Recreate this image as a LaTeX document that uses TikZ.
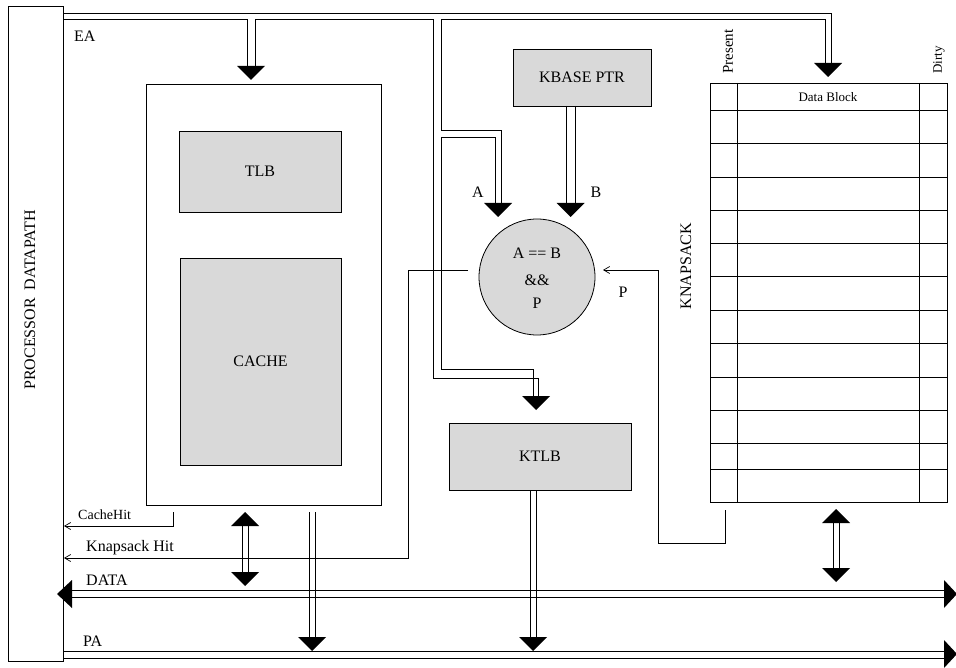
\documentclass[tikz,border=0pt]{standalone}
\usepackage{fontspec}
\setmainfont{Liberation Serif}
\usetikzlibrary{arrows.meta}
\definecolor{stip}{gray}{0.85}
\tikzset{
 box/.style={draw, line width=0.8pt, inner sep=0pt, outer sep=0pt},
 shaded/.style={box, fill=stip},
 wire/.style={line width=0.8pt},
 sig/.style={line width=0.7pt, -{Straight Barb[length=6pt,width=7pt]}},
 lbl/.style={font=\fontsize{16}{18}\selectfont, inner sep=0pt},
 smalllbl/.style={font=\fontsize{13}{15}\selectfont, inner sep=0pt},
}
\newcommand\arrHeadDown[2]{\fill (#1,#2) -- ++(-14,-14) -- ++(28,0) -- cycle;}
\newcommand\arrHeadUp[2]{\fill (#1,#2) -- ++(-14,14) -- ++(28,0) -- cycle;}
\newcommand\arrHeadLeft[2]{\fill (#1,#2) -- ++(15,-14) -- ++(0,28) -- cycle;}
\newcommand\arrHeadRight[2]{\fill (#1,#2) -- ++(-13,-14) -- ++(0,28) -- cycle;}
\begin{document}
\begin{tikzpicture}[x=1pt,y=-1pt]
\useasboundingbox (0,0) rectangle (956,668);
\fill[white] (0,0) rectangle (956,668);

% processor
\node[box, minimum width=55, minimum height=655] (proc) at (35.5,333.5) {};
\node[lbl, rotate=90] (proctxt) at (30,300) {PROCESSOR\ \ DATAPATH};

% cache block
\node[box, minimum width=235, minimum height=421] (cacheouter) at (263.5,294.5) {};
\node[shaded, lbl, minimum width=162, minimum height=81] (tlb) at (260,171.5) {TLB};
\node[shaded, lbl, minimum width=161, minimum height=207] (cache) at (260.5,361.5) {CACHE};

% kbase, comparator, ktlb
\node[shaded, lbl, minimum width=138, minimum height=57] (kbase) at (582,77.5) {KBASE PTR};
\node[shaded, circle, draw, line width=0.8pt, minimum size=116, inner sep=0pt] (cmp) at (537,277) {};
\node[lbl] (cmpa) at (537,253) {A == B};
\node[lbl] (cmpb) at (537,280) {\&\&};
\node[lbl] (cmpc) at (537,303) {P};
\node[shaded, lbl, minimum width=182, minimum height=67] (ktlb) at (540,456.5) {KTLB};

% knapsack table
\node[box, minimum width=237, minimum height=419] (knap) at (828.5,292.5) {};
\draw[wire] (737,83) -- (737,502);
\draw[wire] (919,83) -- (919,502);
\foreach \r in {110,143,177,210,243,276,310,343,377,410,443,469}
  \draw[wire] (710,\r) -- (947,\r);
\node[smalllbl] (dblock) at (828,97) {Data Block};
\node[font=\fontsize{15}{17}\selectfont, inner sep=0pt, rotate=90, anchor=west] (present) at (728,74) {Present};
\node[smalllbl, rotate=90, anchor=west] (dirty) at (939,74) {Dirty};
\node[lbl, rotate=90] (knaptxt) at (686,266) {KNAPSACK};

% EA bus
\draw[wire] (proc.north east |- 0,13) -- (831,13) -- (831,63);
\draw[wire] (proc.north east |- 0,19) -- (247,19) -- (247,66);
\draw[wire] (255,66) -- (255,19) -- (433,19) -- (433,378) -- (538,378) -- (538,397);
\draw[wire] (501,203) -- (501,130) -- (441,130) -- (441,19) -- (825,19) -- (825,63);
\draw[wire] (495,203) -- (495,137) -- (441,137) -- (441,369) -- (533,369) -- (533,397);
\arrHeadDown{251}{80}
\arrHeadDown{828}{77}
\arrHeadDown{498}{217}
\arrHeadDown{536}{410}
\node[lbl, anchor=west] (ea) at (74,36) {EA};
\node[lbl] (la) at (478,192) {A};

% B from kbase
\draw[wire] (566,106) -- (566,203);
\draw[wire] (575,106) -- (575,203);
\arrHeadDown{570.5}{217}
\node[lbl] (lb) at (596,192) {B};

% P feedback
\draw[sig] (725,510) -- (725,543) -- (658,543) -- (658,270) -- (603,270);
\node[lbl] (lp) at (623,292) {P};

% Knapsack hit
\draw[sig] (468,270) -- (408,270) -- (408,558) -- (64,558);
\node[lbl, anchor=west] (khit) at (86,548) {Knapsack Hit};

% Cache hit
\draw[sig] (173,512) -- (173,526) -- (64,526);
\node[font=\fontsize{14}{16}\selectfont, inner sep=0pt, anchor=west] (chit) at (78,515) {CacheHit};

% DATA bus
\draw[wire] (70,590) -- (946,590);
\draw[wire] (70,597) -- (946,597);
\arrHeadLeft{57}{594}
\arrHeadRight{957}{594}
\node[lbl, anchor=west] (data) at (86,580) {DATA};

% cache <-> DATA
\draw[wire] (242,524) -- (242,574);
\draw[wire] (248,524) -- (248,574);
\arrHeadUp{245}{512}
\arrHeadDown{245}{586}

% knapsack <-> DATA
\draw[wire] (833,522) -- (833,569);
\draw[wire] (839,522) -- (839,569);
\arrHeadUp{836}{509}
\arrHeadDown{836}{582}

% PA bus
\draw[wire] (63,651) -- (946,651);
\draw[wire] (63,658) -- (946,658);
\arrHeadRight{957}{654}
\node[lbl, anchor=west] (pa) at (83,641) {PA};

% cache -> PA
\draw[wire] (309,512) -- (309,638);
\draw[wire] (315,512) -- (315,638);
\arrHeadDown{312}{651}

% KTLB -> PA
\draw[wire] (530,490) -- (530,638);
\draw[wire] (536,490) -- (536,638);
\arrHeadDown{533}{651}
\end{tikzpicture}
\end{document}
